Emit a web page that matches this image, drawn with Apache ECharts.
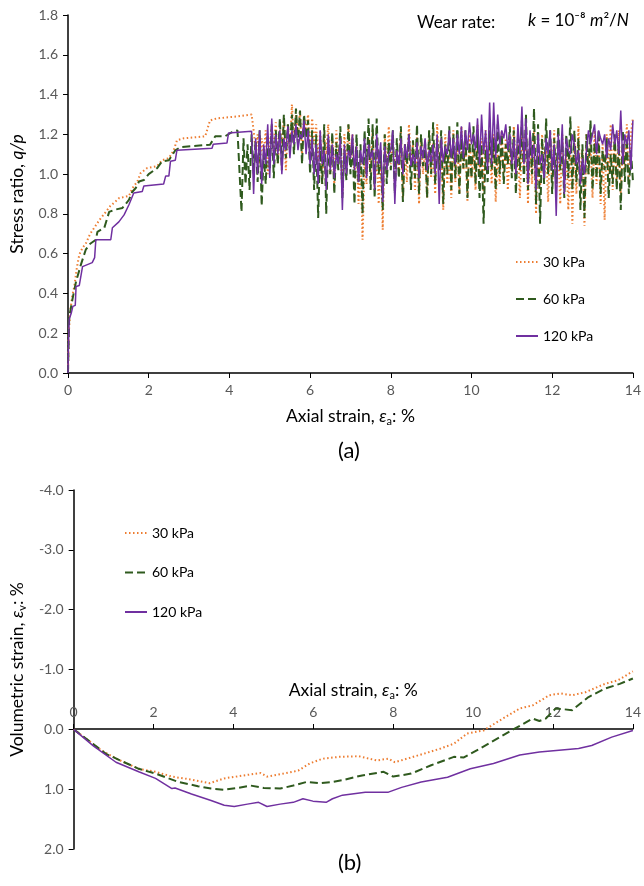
<!DOCTYPE html>
<html>
<head>
<meta charset="utf-8">
<script src="https://cdn.jsdelivr.net/npm/echarts@6/dist/echarts.min.js"></script>
<style>
html,body{margin:0;padding:0;background:#fff;}
#chart{width:644px;height:886px;}
</style>
</head>
<body>
<div id="chart"></div>
<script>
// ---------- DATA ----------
const seriesNames = ['30 kPa', '60 kPa', '120 kPa'];

// (a) stress ratio – initial (stepwise) part
const a30EarlyX = [0,0.02,0.05,0.1,0.16,0.22,0.28,0.36,0.44,0.55,0.65,0.78,0.9,1.05,1.22,1.27,1.51,1.60,1.72,1.80,1.96,2.21,2.33,2.50,2.62,2.70,2.87,3.40,3.52,3.69,4.20,4.55];
const a30EarlyY = [0,0.2,0.3,0.38,0.44,0.53,0.595,0.63,0.65,0.70,0.73,0.77,0.80,0.84,0.87,0.88,0.89,0.93,0.963,1.005,1.03,1.04,1.07,1.08,1.12,1.17,1.18,1.19,1.27,1.28,1.29,1.30];
const a60EarlyX = [0,0.02,0.03,0.1,0.2,0.32,0.44,0.55,0.69,0.73,0.9,1.02,1.14,1.35,1.51,1.59,1.68,1.76,1.88,2.0,2.21,2.33,2.5,2.66,2.79,3.52,3.65,3.89,4.10,4.20];
const a60EarlyY = [0,0.2,0.28,0.36,0.46,0.545,0.62,0.65,0.67,0.71,0.73,0.81,0.82,0.83,0.87,0.91,0.93,0.963,0.97,1.0,1.03,1.064,1.07,1.12,1.136,1.148,1.19,1.19,1.215,1.22];
const a120EarlyX = [0,0.01,0.03,0.08,0.12,0.18,0.2,0.28,0.36,0.6,0.66,0.69,1.06,1.1,1.26,1.39,1.51,1.63,1.84,1.88,2.37,2.42,2.5,2.54,2.66,2.70,3.57,3.6,3.94,3.98,4.55];
const a120EarlyY = [0,0.12,0.27,0.30,0.335,0.34,0.435,0.44,0.535,0.555,0.58,0.67,0.67,0.73,0.76,0.795,0.846,0.905,0.913,0.94,0.95,0.99,0.99,1.065,1.07,1.12,1.13,1.15,1.156,1.207,1.215];

// (a) stress ratio – fluctuating part, sampled on a common strain grid
const noiseX = [
4.30,4.35,4.40,4.45,4.50,4.55,4.60,4.65,4.70,4.75,
4.80,4.85,4.90,4.95,5.00,5.05,5.10,5.15,5.20,5.25,
5.30,5.35,5.40,5.45,5.50,5.55,5.60,5.65,5.70,5.75,
5.80,5.85,5.90,5.95,6.00,6.05,6.10,6.15,6.20,6.25,
6.30,6.35,6.40,6.45,6.50,6.55,6.60,6.65,6.70,6.75,
6.80,6.85,6.90,6.95,7.00,7.05,7.10,7.15,7.20,7.25,
7.30,7.35,7.40,7.45,7.50,7.55,7.60,7.65,7.70,7.75,
7.80,7.85,7.90,7.95,8.00,8.05,8.10,8.15,8.20,8.25,
8.30,8.35,8.40,8.45,8.50,8.55,8.60,8.65,8.70,8.75,
8.80,8.85,8.90,8.95,9.00,9.05,9.10,9.15,9.20,9.25,
9.30,9.35,9.40,9.45,9.50,9.55,9.60,9.65,9.70,9.75,
9.80,9.85,9.90,9.95,10.00,10.05,10.10,10.15,10.20,10.25,
10.30,10.35,10.40,10.45,10.50,10.55,10.60,10.65,10.70,10.75,
10.80,10.85,10.90,10.95,11.00,11.05,11.10,11.15,11.20,11.25,
11.30,11.35,11.40,11.45,11.50,11.55,11.60,11.65,11.70,11.75,
11.80,11.85,11.90,11.95,12.00,12.05,12.10,12.15,12.20,12.25,
12.30,12.35,12.40,12.45,12.50,12.55,12.60,12.65,12.70,12.75,
12.80,12.85,12.90,12.95,13.00,13.05,13.10,13.15,13.20,13.25,
13.30,13.35,13.40,13.45,13.50,13.55,13.60,13.65,13.70,13.75,
13.80,13.85,13.90,13.95,14.00];
// starts at 4.30
const a60NoiseY = [
0.81,1.18,0.95,1.15,0.92,1.20,1.00,
1.17,0.96,1.22,0.84,1.10,0.95,1.20,1.02,
1.25,0.98,1.22,1.05,1.28,1.02,1.30,1.08,1.25,1.12,
1.30,1.10,1.33,1.15,1.32,1.05,1.30,1.18,1.27,1.00,
1.22,0.92,1.20,0.78,1.15,0.95,1.25,0.80,1.18,1.00,
1.21,0.90,1.16,1.02,1.24,0.88,1.12,0.97,1.25,1.00,
1.18,0.85,1.20,0.95,1.15,0.80,1.22,1.00,1.28,0.92,
1.25,0.88,1.28,1.00,1.12,0.82,1.20,0.95,1.16,1.02,
1.22,0.90,1.18,0.98,1.24,0.86,1.15,1.05,1.20,0.92,
1.17,0.98,1.25,0.90,1.20,1.04,1.16,0.88,1.22,1.00,
1.26,0.95,1.18,1.02,1.22,0.85,1.15,1.00,1.24,0.92,
1.20,0.98,1.26,0.90,1.18,1.03,1.22,0.88,1.16,0.98,
1.24,0.95,1.20,0.88,1.15,0.75,1.12,0.96,1.22,1.02,
1.18,0.92,1.25,1.00,1.20,0.95,1.15,1.05,1.24,0.98,
1.22,0.90,1.18,1.02,1.27,0.96,1.30,0.92,1.20,1.00,
1.33,0.85,1.25,0.75,1.18,0.95,1.28,1.00,1.22,0.90,
1.18,0.95,1.24,1.02,1.16,0.88,1.20,0.98,1.29,0.92,
1.22,0.96,1.18,0.82,1.15,0.78,1.20,1.00,1.27,0.92,
1.16,0.98,1.22,0.90,1.12,1.02,1.18,0.88,1.10,0.95,
1.20,0.92,1.15,0.82,1.22,0.96,1.18,0.90,1.12,0.97];
// start at 4.60
const a30NoiseY = [
1.22,1.12,1.20,1.05,1.18,1.10,1.22,1.00,1.15,
1.24,1.10,1.26,1.05,1.22,1.15,1.28,1.02,1.25,1.12,
1.35,1.15,1.30,1.20,1.32,1.10,1.28,1.22,1.30,1.08,
1.28,1.15,1.25,1.05,1.22,0.95,1.20,1.10,1.25,1.00,
1.18,0.95,1.22,1.05,1.15,0.90,1.20,1.02,1.25,1.08,
1.20,0.98,1.15,0.85,1.10,0.67,1.05,0.95,1.18,1.00,
1.22,0.92,1.15,0.85,1.10,0.72,1.20,1.00,1.24,1.05,
1.18,0.95,1.12,1.02,1.22,0.88,1.15,0.96,1.25,1.05,
1.15,0.92,1.20,0.85,1.18,1.00,1.12,0.88,1.22,0.98,
1.16,0.90,1.25,1.02,1.14,0.82,1.20,0.95,1.10,0.88,
1.22,0.96,1.18,0.90,1.24,1.02,1.15,0.86,1.20,0.98,
1.12,0.92,1.25,1.00,1.18,0.90,1.22,1.05,1.15,0.95,
1.20,0.86,1.10,0.95,1.22,1.00,1.18,0.92,1.12,1.02,
1.24,0.98,1.15,0.88,1.20,1.02,1.25,0.85,1.18,0.95,
1.22,0.80,1.15,0.92,1.20,1.00,1.12,0.86,1.18,0.95,
1.22,0.92,1.15,0.85,1.20,0.98,1.10,0.82,1.15,0.75,
1.18,0.90,1.24,0.95,1.12,0.74,1.20,1.00,1.15,0.88,
1.22,0.95,1.18,0.85,1.15,0.77,1.20,1.00,1.25,0.92,
1.18,0.96,1.22,0.90,1.15,1.02,1.25,0.95,1.20,1.28];
const a120NoiseY = [
0.90,1.18,1.00,1.22,0.95,1.15,1.05,1.25,0.98,
1.28,1.05,1.20,1.10,1.22,1.00,1.18,1.12,1.24,1.08,
1.22,1.15,1.25,1.12,1.20,1.18,1.27,1.10,1.22,1.05,
1.18,1.00,1.15,0.95,1.22,1.05,1.12,0.92,1.20,1.02,
1.15,0.98,1.10,1.05,1.18,0.82,1.15,1.00,1.12,1.08,
1.20,1.02,1.14,0.96,1.12,1.05,1.18,0.98,1.15,1.08,
1.12,0.92,1.20,1.05,1.16,0.86,1.14,1.02,1.10,1.12,
1.22,0.85,1.12,1.05,1.18,1.00,1.15,1.08,1.20,1.04,
1.10,1.05,1.16,0.98,1.14,1.08,1.18,1.02,1.12,1.06,
1.15,1.00,1.20,0.85,1.18,1.06,1.14,1.10,1.22,1.08,
1.18,1.05,1.20,1.10,1.24,1.08,1.22,1.12,1.26,1.15,
1.20,1.12,1.28,1.05,1.30,1.10,1.22,1.02,1.36,1.05,
1.36,1.08,1.30,1.15,1.22,1.18,1.25,1.12,1.20,1.05,
1.18,1.00,1.25,1.10,1.34,1.05,1.28,0.95,1.22,1.08,
1.15,0.92,1.20,1.05,1.10,0.98,1.18,1.10,1.22,1.02,
1.15,0.79,1.20,1.05,1.25,0.90,1.18,1.12,1.10,1.20,
1.15,1.05,1.12,0.95,1.08,1.00,1.12,1.22,1.15,1.20,
1.25,1.10,1.22,1.18,1.15,1.20,1.08,1.18,1.12,1.25,
1.15,1.22,1.10,1.32,1.05,1.20,1.15,1.22,1.02,1.27];

// (b) volumetric strain
const b30X = [0,0.3,0.69,1.1,1.63,2.05,2.46,2.95,3.40,3.77,4.26,4.68,4.84,5.25,5.62,5.91,6.24,6.65,7.14,7.59,7.88,8.04,8.45,8.8,9.19,9.52,9.85,10.26,10.67,11.17,11.49,11.91,12.19,12.48,12.81,13.30,13.63,14.0];
const b30Y = [0,0.15,0.35,0.5,0.66,0.71,0.79,0.84,0.90,0.82,0.77,0.73,0.79,0.74,0.69,0.57,0.49,0.46,0.45,0.52,0.49,0.55,0.47,0.40,0.32,0.24,0.07,0.02,-0.15,-0.35,-0.40,-0.57,-0.60,-0.57,-0.62,-0.76,-0.82,-0.97];
const b60X = [0,0.4,0.81,1.2,1.63,2.05,2.62,3.11,3.44,3.77,4.10,4.43,4.76,5.17,5.50,5.83,6.15,6.48,6.73,7.22,7.76,8.0,8.45,8.95,9.52,9.77,10.18,10.67,11.04,11.49,11.66,11.82,12.07,12.48,12.89,13.30,13.67,14.0];
const b60Y = [0,0.2,0.41,0.53,0.66,0.74,0.88,0.95,0.99,1.01,0.98,0.94,0.98,0.99,0.94,0.88,0.90,0.88,0.85,0.77,0.71,0.79,0.74,0.60,0.46,0.47,0.32,0.13,-0.01,-0.18,-0.14,-0.18,-0.35,-0.32,-0.54,-0.68,-0.76,-0.85];
const b120X = [0,0.5,1.06,1.63,2.05,2.46,2.54,2.95,3.44,3.77,4.02,4.35,4.63,4.84,5.17,5.50,5.74,5.99,6.32,6.48,6.73,7.30,7.88,8.21,8.70,9.36,9.93,10.51,11.17,11.66,12.15,12.64,12.97,13.47,14.0];
const b120Y = [0,0.28,0.55,0.71,0.82,0.99,0.98,1.08,1.19,1.27,1.29,1.25,1.22,1.29,1.25,1.22,1.16,1.2,1.22,1.16,1.10,1.05,1.05,0.97,0.88,0.80,0.66,0.57,0.43,0.38,0.35,0.32,0.27,0.13,0.02];

// ---------- BUILD ----------
function zip(xs, ys) { return xs.map((x, i) => [x, ys[i]]); }
function withNoise(ex, ey, ny) {
  const start = noiseX.length - ny.length;
  return zip(ex, ey).concat(zip(noiseX.slice(start), ny));
}
const dataA30 = withNoise(a30EarlyX, a30EarlyY, a30NoiseY);
const dataA60 = withNoise(a60EarlyX, a60EarlyY, a60NoiseY);
const dataA120 = withNoise(a120EarlyX, a120EarlyY, a120NoiseY);

const colors = ['#ED7D31', '#2F5A1E', '#7030A0'];
const lineStyles = [
  { color: colors[0], width: 2, type: [1.5, 2.5] },
  { color: colors[1], width: 2, type: [8, 4] },
  { color: colors[2], width: 1.5, type: 'solid' }
];
const FONT = 'Lato, "Open Sans", sans-serif';
const nameRich = {
  n: { fontFamily: FONT, fontSize: 17.5, color: '#000', lineHeight: 22 },
  i: { fontFamily: FONT, fontSize: 17.5, color: '#000', fontStyle: 'italic', lineHeight: 22 },
  s: { fontFamily: FONT, fontSize: 11, color: '#000', verticalAlign: 'bottom', lineHeight: 15 }
};
const axisLineStyle = { lineStyle: { color: '#000', width: 1.5 } };
const labelStyle = { color: '#595959', fontSize: 14, fontFamily: FONT };

function mkSeries(name, data, idx, gridIdx) {
  return {
    name: name, type: 'line', data: data,
    xAxisIndex: gridIdx, yAxisIndex: gridIdx,
    showSymbol: false, symbol: 'none', animation: false,
    lineStyle: lineStyles[idx], itemStyle: { color: colors[idx] },
    z: 2 + idx
  };
}
const legendCommon = {
  orient: 'vertical', itemWidth: 22, itemHeight: 16,
  data: seriesNames, selectedMode: false,
  itemStyle: { opacity: 0 },
  textStyle: { fontFamily: FONT, fontSize: 14, color: '#000', lineHeight: 16 }
};

const option = {
  animation: false,
  backgroundColor: '#fff',
  textStyle: { fontFamily: FONT },
  grid: [
    { left: 67, right: 9, top: 15, height: 358 },
    { left: 67, right: 9, top: 490, height: 359 }
  ],
  xAxis: [
    {
      gridIndex: 0, type: 'value', min: 0, max: 14, interval: 2,
      axisLine: axisLineStyle, axisTick: { show: true, length: 5, lineStyle: { color: '#000' } },
      splitLine: { show: false }, axisLabel: Object.assign({ margin: 10 }, labelStyle),
      name: '{n|Axial strain, }{i|ε}{s|a}{n|: %}', nameLocation: 'middle', nameGap: 32,
      nameTextStyle: { rich: nameRich }
    },
    {
      gridIndex: 1, type: 'value', min: 0, max: 14, interval: 2, position: 'top', offset: -239,
      axisLine: Object.assign({ onZero: false }, axisLineStyle),
      axisTick: { show: true, length: 5, lineStyle: { color: '#000' } },
      splitLine: { show: false }, axisLabel: Object.assign({ margin: 10 }, labelStyle),
      name: '{n|Axial strain, }{i|ε}{s|a}{n|: %}', nameLocation: 'middle', nameGap: 28,
      nameTextStyle: { rich: nameRich }
    }
  ],
  yAxis: [
    {
      gridIndex: 0, type: 'value', min: 0, max: 1.8, interval: 0.2,
      axisLine: { show: true, lineStyle: { color: '#000', width: 1.5 } },
      axisTick: { show: true, length: 5, lineStyle: { color: '#000' } },
      splitLine: { show: false },
      axisLabel: Object.assign({ margin: 10, formatter: v => v.toFixed(1) }, labelStyle),
      name: '{n|Stress ratio, }{i|q/p}', nameLocation: 'middle', nameGap: 40,
      nameTextStyle: { rich: nameRich }
    },
    {
      gridIndex: 1, type: 'value', min: -4, max: 2, interval: 1, inverse: true,
      axisLine: { show: true, onZero: false, lineStyle: { color: '#000', width: 1.5 } },
      axisTick: { show: true, length: 5, lineStyle: { color: '#000' } },
      splitLine: { show: false },
      axisLabel: Object.assign({ margin: 10, formatter: v => v.toFixed(1) }, labelStyle),
      name: '{n|Volumetric strain, }{i|ε}{s|v}{n|: %}', nameLocation: 'middle', nameGap: 40,
      nameTextStyle: { rich: nameRich }
    }
  ],
  legend: [
    Object.assign({ left: 510, top: 249, itemGap: 21 }, legendCommon),
    Object.assign({ left: 119, top: 520, itemGap: 23.5 }, legendCommon)
  ],
  graphic: [
    { type: 'text', left: 417, top: 14, style: { text: 'Wear rate:', font: '17px ' + FONT, fill: '#000' } },
    { type: 'text', left: 528, top: 12, style: {
        text: '{i|k}{n| = 10⁻⁸ }{i|m}{n|²/}{i|N}',
        rich: {
          n: { fontFamily: FONT, fontSize: 17, fill: '#000', lineHeight: 22 },
          i: { fontFamily: FONT, fontSize: 17, fontStyle: 'italic', fill: '#000', lineHeight: 22 }
        }
    } },
    { type: 'text', left: 338, top: 440, style: { text: '(a)', font: '22px ' + FONT, fill: '#000' } },
    { type: 'text', left: 338, top: 852, style: { text: '(b)', font: '22px ' + FONT, fill: '#000' } }
  ],
  series: [
    mkSeries(seriesNames[0], dataA30, 0, 0),
    mkSeries(seriesNames[1], dataA60, 1, 0),
    mkSeries(seriesNames[2], dataA120, 2, 0),
    mkSeries(seriesNames[0], zip(b30X, b30Y), 0, 1),
    mkSeries(seriesNames[1], zip(b60X, b60Y), 1, 1),
    mkSeries(seriesNames[2], zip(b120X, b120Y), 2, 1)
  ]
};

const chart = echarts.init(document.getElementById('chart'), null, { renderer: 'canvas' });
chart.setOption(option);
</script>
</body>
</html>
